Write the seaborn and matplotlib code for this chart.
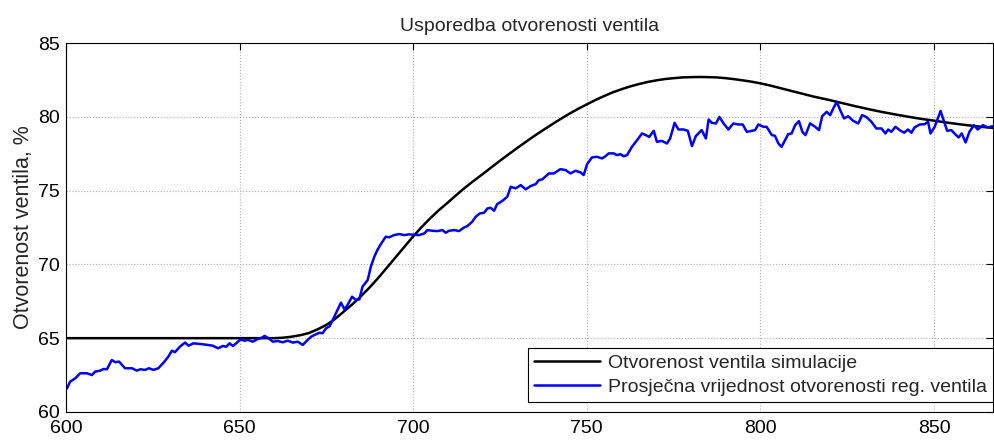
import matplotlib
matplotlib.use("Agg")
from matplotlib import pyplot as plt
import pandas as pd
import seaborn as sns

# simulacija (crna krivulja)
sim_t = [600, 620, 640, 650, 655, 660, 662.5, 665, 667.5, 670, 672.5, 675, 677.5, 680, 682.5,
         685, 687.5, 690, 692.5, 695, 697.5, 700, 702.5, 705, 707.5, 710, 712.5, 715, 717.5,
         720, 722.5, 725, 727.5, 730, 732.5, 735, 737.5, 740, 742.5, 745, 747.5, 750, 752.5,
         755, 757.5, 760, 762.5, 765, 767.5, 770, 772.5, 775, 777.5, 780, 782.5, 785, 787.5,
         790, 792.5, 795, 797.5, 800, 802.5, 805, 807.5, 810, 812.5, 815, 817.5, 820, 822.5,
         825, 827.5, 830, 832.5, 835, 837.5, 840, 842.5, 845, 847.5, 850, 852.5, 855, 857.5,
         860, 862.5, 865, 867]
sim_v = [65.0, 65.0, 65.0, 65.0, 65.0, 65.0, 65.03, 65.1, 65.2, 65.35, 65.6, 65.9, 66.3, 66.8, 67.3,
         67.85, 68.45, 69.1, 69.8, 70.5, 71.2, 71.9, 72.55, 73.15, 73.7, 74.2, 74.72, 75.22, 75.68,
         76.12, 76.58, 77.03, 77.47, 77.9, 78.32, 78.73, 79.12, 79.5, 79.87, 80.22, 80.55, 80.85, 81.15,
         81.42, 81.67, 81.88, 82.07, 82.23, 82.37, 82.48, 82.57, 82.63, 82.68, 82.7, 82.71, 82.7, 82.68,
         82.63, 82.56, 82.48, 82.39, 82.28, 82.15, 82.0, 81.85, 81.7, 81.55, 81.4, 81.27, 81.14, 81.0,
         80.86, 80.72, 80.59, 80.46, 80.34, 80.23, 80.12, 80.02, 79.92, 79.83, 79.75, 79.66, 79.58, 79.5,
         79.43, 79.36, 79.3, 79.26]

# prosjecna vrijednost (plava krivulja)
avg_t = [600.3, 601.2, 602.7, 604.1, 606.0, 607.5, 608.4, 609.9, 610.8, 611.8, 613.2, 614.2, 615.3,
         617.0, 619.0, 620.4, 621.4, 622.8, 623.9, 625.2, 626.6, 628.1, 629.5, 630.5, 631.4, 632.8,
         634.3, 635.3, 636.7, 639.0, 640.9, 642.3, 643.8, 645.2, 646.2, 647.1, 648.1, 649.0, 650.3,
         651.4, 652.4, 653.8, 655.3, 656.2, 657.2, 658.3, 659.6, 661.0, 662.4, 663.9, 665.3, 666.8,
         668.2, 669.6, 670.6, 671.6, 673.0, 673.9, 674.9, 675.9, 677.3, 678.2, 679.2, 680.2, 681.1,
         682.4, 683.5, 684.5, 685.4, 686.9, 687.8, 688.8, 689.7, 690.7, 692.1, 693.1, 694.5, 696.0,
         697.4, 698.9, 700.3, 701.7, 703.2, 704.1, 705.6, 707.0, 708.4, 709.4, 710.3, 711.8, 713.2,
         714.7, 715.6, 717.0, 718.0, 719.2, 720.4, 721.4, 722.3, 723.3, 724.2, 725.7, 727.1, 728.1,
         729.5, 731.0, 732.4, 733.8, 735.3, 736.2, 737.2, 739.1, 740.5, 742.4, 743.9, 745.3, 746.7,
         748.2, 749.1, 750.1, 751.5, 752.9, 754.4, 755.4, 756.3, 757.8, 758.7, 759.7, 760.6, 761.6,
         763.0, 764.5, 765.9, 767.0, 768.0, 769.3, 770.2, 771.6, 773.1, 774.0, 775.3, 776.4, 777.9,
         779.1, 780.3, 781.4, 783.1, 784.3, 785.1, 786.0, 787.2, 788.2, 789.4, 790.8, 792.2, 793.7,
         794.9, 796.1, 797.5, 798.5, 799.4, 800.9, 801.8, 803.3, 804.2, 805.2, 806.1, 807.1, 808.0,
         809.0, 810.0, 811.1, 812.1, 813.0, 814.3, 815.5, 816.9, 817.8, 819.1, 820.1, 821.0, 822.0,
         823.0, 824.1, 825.3, 826.7, 828.2, 829.3, 830.5, 832.0, 833.4, 834.9, 836.0, 836.8, 837.7,
         838.9, 840.1, 841.4, 842.5, 843.5, 844.4, 845.9, 847.3, 848.3, 849.0, 850.2, 851.1, 851.9,
         852.6, 853.8, 855.0, 855.9, 857.1, 858.0, 859.1, 860.2, 861.5, 862.6, 864.1, 865.5, 867.0]
avg_v = [61.6, 62.05, 62.28, 62.62, 62.62, 62.5, 62.73, 62.8, 62.91, 62.89, 63.52, 63.37, 63.41,
         62.96, 62.96, 62.8, 62.89, 62.85, 62.96, 62.85, 62.96, 63.34, 63.75, 64.15, 64.05, 64.42,
         64.7, 64.49, 64.65, 64.6, 64.54, 64.49, 64.31, 64.47, 64.42, 64.65, 64.47, 64.65, 64.92,
         64.83, 64.88, 64.76, 64.95, 65.0, 65.15, 65.0, 64.76, 64.81, 64.72, 64.83, 64.7, 64.76,
         64.54, 64.88, 65.1, 65.22, 65.37, 65.33, 65.67, 65.8, 66.46, 66.91, 67.41, 66.96, 67.25,
         67.81, 67.59, 67.63, 68.49, 68.94, 69.84, 70.52, 70.98, 71.38, 71.88, 71.84, 71.99, 72.06,
         71.99, 72.04, 72.01, 71.99, 72.1, 72.33, 72.28, 72.26, 72.33, 72.15, 72.28, 72.33, 72.26,
         72.51, 72.6, 72.89, 73.23, 73.46, 73.5, 73.8, 73.84, 73.64, 74.09, 74.31, 74.59, 75.26,
         75.16, 75.38, 75.09, 75.31, 75.45, 75.72, 75.77, 76.17, 76.17, 76.46, 76.4, 76.17, 76.35,
         76.24, 76.06, 76.8, 77.26, 77.3, 77.19, 77.34, 77.53, 77.53, 77.41, 77.48, 77.34, 77.41,
         77.97, 78.43, 78.88, 78.77, 78.65, 79.06, 78.31, 78.38, 78.2, 78.54, 79.6, 79.15, 79.15,
         79.06, 78.02, 78.7, 79.11, 78.54, 79.83, 79.6, 79.56, 80.0, 79.56, 79.15, 79.56, 79.49,
         79.49, 78.99, 79.06, 79.11, 79.49, 79.33, 79.33, 78.77, 78.72, 78.2, 77.97, 78.43, 78.83,
         78.88, 79.44, 79.72, 78.99, 78.77, 79.56, 79.38, 79.11, 80.05, 80.35, 80.12, 80.58, 81.03,
         80.46, 79.9, 80.05, 79.74, 79.56, 80.12, 80.0, 79.67, 79.22, 79.22, 78.88, 79.15, 78.99,
         79.33, 79.11, 78.93, 79.15, 78.93, 79.29, 79.49, 79.51, 79.67, 78.88, 79.33, 79.9, 80.41,
         79.9, 79.06, 79.11, 78.88, 78.61, 78.88, 78.27, 78.99, 79.44, 79.15, 79.44, 79.29, 79.38]

x_ticks = [600, 650, 700, 750, 800, 850]
y_ticks = [60, 65, 70, 75, 80, 85]

sns.set_style("white")
plt.rcParams['font.family'] = ['Liberation Sans', 'DejaVu Sans']

df_sim = pd.DataFrame({"t": sim_t, "v": sim_v})
df_avg = pd.DataFrame({"t": avg_t, "v": avg_v})

fig = plt.figure(figsize=(9.95, 4.41), dpi=100)
ax = fig.add_axes([0.0663, 0.066, 0.9317, 0.836])

sns.lineplot(data=df_sim, x="t", y="v", ax=ax, color="black", linewidth=1.8,
             label="Otvorenost ventila simulacije", estimator=None, sort=False)
sns.lineplot(data=df_avg, x="t", y="v", ax=ax, color="#0000ff", linewidth=1.8,
             label="Prosječna vrijednost otvorenosti reg. ventila", estimator=None, sort=False)

ax.set_xlim(600, 867)
ax.set_ylim(60, 85)
ax.set_xticks(x_ticks)
ax.set_yticks(y_ticks)
ax.grid(True, linestyle=":", color="#b0b0b0", linewidth=0.8)
ax.tick_params(direction="in", length=5, width=0.8, labelsize=14, top=True, right=True,
               labeltop=False, labelright=False, colors="black")
ax.tick_params(axis="x", pad=5.5)
ax.tick_params(axis="y", pad=4.5)
for s in ax.spines.values():
    s.set_visible(True)
    s.set_color("black")
    s.set_linewidth(0.8)

ax.set_xlabel("")
ax.set_ylabel("Otvorenost ventila, %", fontsize=15.5, labelpad=3)
ax.set_title("Usporedba otvorenosti ventila", fontsize=14, pad=9)

leg = ax.legend(loc="lower right", bbox_to_anchor=(1.0, 0.027), fontsize=14, frameon=True,
                fancybox=False, handlelength=3.4, borderaxespad=0.0, borderpad=0.3,
                labelspacing=0.35, handletextpad=0.4)
leg.get_frame().set_edgecolor("black")
leg.get_frame().set_linewidth(0.8)
leg.get_frame().set_alpha(1)

plt.savefig("out.png", dpi=100)
plt.close()
